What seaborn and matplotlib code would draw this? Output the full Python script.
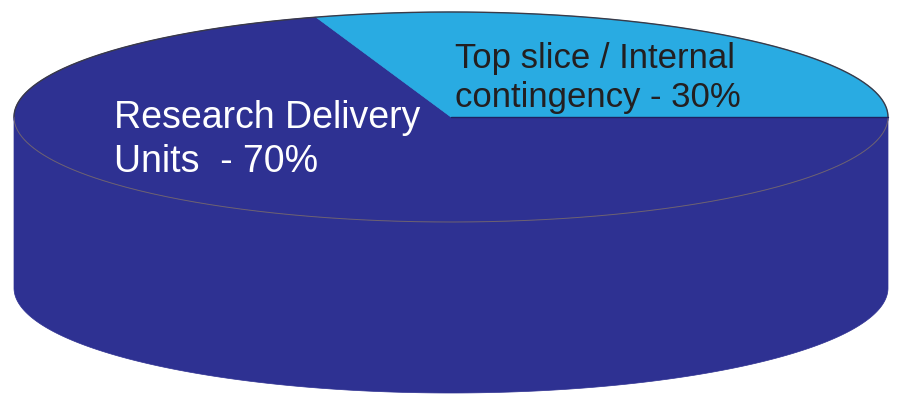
import numpy as np
import matplotlib
matplotlib.use("Agg")
import matplotlib.pyplot as plt
from matplotlib.patches import Polygon
import seaborn as sns

# Budget split drawn as a cylinder ("3-D") pie
categories = ["Research Delivery\nUnits  - 70%", "Top slice / Internal\ncontingency - 30%"]
shares = [70, 30]
slice_colors = ["#2E3192", "#29ABE2"]
label_colors = ["#FFFFFF", "#231F20"]
label_sizes = [27, 25]
label_spacing = [1.29, 1.25]
label_anchor = [(114, 172), (455, 107)]  # left edge, baseline of last line

sns.set_theme(style="white")
plt.rcParams["font.family"] = ["Liberation Sans", "DejaVu Sans"]

fig = plt.figure(figsize=(8.98, 3.94), dpi=100)
ax = fig.add_axes([0, 0, 1, 1])
ax.set_xlim(0, 898)
ax.set_ylim(394, 0)
ax.axis("off")

# cylinder geometry (pixel space, y grows downward)
cx, cy, a, b, depth = 451, 117, 437, 105, 171
start_angle = 108.0


def arc(t0, t1, yc, n=300):
    t = np.radians(np.linspace(t0, t1, n))
    return np.column_stack([cx + a * np.cos(t), yc - b * np.sin(t)])


# slice angles from the shares
total = float(sum(shares))
bounds = []
ang = start_angle
for v in shares:
    span = 360.0 * v / total
    bounds.append((ang, ang + span))
    ang += span

# side wall: only the front half (180..360 deg) is visible
for (t0, t1), col in zip(bounds, slice_colors):
    for k in (-360, 0, 360):
        lo, hi = max(t0 + k, 180), min(t1 + k, 360)
        if hi > lo:
            top = arc(lo, hi, cy)
            bot = arc(hi, lo, cy + depth)
            ax.add_patch(Polygon(np.vstack([top, bot]), closed=True,
                                 facecolor=col, edgecolor=col, lw=0.5, zorder=1))

# top face wedges
for (t0, t1), col in zip(bounds, slice_colors):
    pts = np.vstack([[cx, cy], arc(t0, t1, cy), [cx, cy]])
    ax.add_patch(Polygon(pts, closed=True, facecolor=col, edgecolor=col,
                         lw=0.5, zorder=2))

# outlines of the top face
back = arc(0, 180, cy)
ax.plot(back[:, 0], back[:, 1], color="#3a3a48", lw=1.0, zorder=3)
front = arc(180, 360, cy)
ax.plot(front[:, 0], front[:, 1], color="#6e6270", lw=0.7, zorder=3)
ax.plot([cx, cx + a], [cy, cy], color="#1f2160", lw=1.0, zorder=3)

# labels
for text, col, fs, ls, (x, y) in zip(categories, label_colors, label_sizes,
                                     label_spacing, label_anchor):
    ax.text(x, y, text, color=col, fontsize=fs, ha="left", va="baseline",
            linespacing=ls, zorder=4)

fig.savefig("out.png", dpi=100, facecolor="white")
